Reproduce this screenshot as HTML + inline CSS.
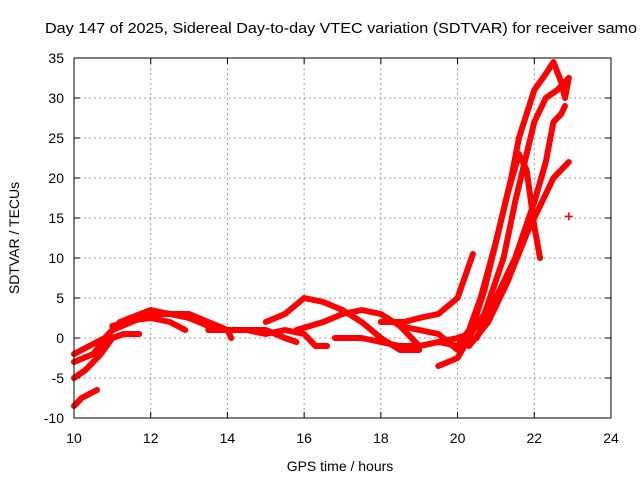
<!DOCTYPE html>
<html><head><meta charset="utf-8"><style>
body{margin:0;background:#fff}
svg{display:block;font-family:"Liberation Sans",sans-serif}
</style></head><body>
<svg id="c" width="640" height="480">
<text x="45" y="33" font-size="15" textLength="592" lengthAdjust="spacingAndGlyphs">Day 147 of 2025, Sidereal Day-to-day VTEC variation (SDTVAR) for receiver samo</text>
<g id="grid"></g><g id="ticks"></g><g id="series"></g>
<rect x="74" y="58" width="537" height="360" fill="none" stroke="#000" stroke-width="1"/>
<text x="340" y="471" font-size="14" text-anchor="middle">GPS time / hours</text>
<text transform="translate(19,238) rotate(-90)" font-size="14" text-anchor="middle">SDTVAR / TECUs</text>
</svg>
<script>
const xTicks=[10,12,14,16,18,20,22,24];
const yTicks=[-10,-5,0,5,10,15,20,25,30,35];
const trackA=[[10,-8.5],[10.2,-7.5],[10.4,-7],[10.6,-6.5]];
const trackB=[[10,-5],[10.3,-4],[10.7,-2],[11,0],[11.3,0.5],[11.7,0.5]];
const trackC=[[10,-3],[10.5,-2],[11,1],[11.5,2],[12,3],[12.5,3],[13,2.5],[13.5,1.5],[14,1],[14.5,1],[15,0.5],[15.5,1],[16,0.5],[16.3,-1],[16.6,-1]];
const trackD=[[10,-2],[10.8,0],[11.2,2],[12,3.5],[12.5,3],[13,3],[13.5,2],[14,1],[14.1,0]];
const trackE=[[11,1.5],[11.5,2.2],[12,2.5],[12.5,2],[12.9,1]];
const trackF=[[13.5,1],[14,1],[14.5,1],[15,1],[15.5,0],[15.8,-0.5]];
const trackG=[[15,2],[15.5,3],[16,5],[16.5,4.5],[17,3.5],[17.5,2],[18,0],[18.5,-1.5],[19,-1.5]];
const trackH=[[16.8,0],[17.5,0],[18,-0.5],[18.5,-1],[19,-1],[19.5,-0.5],[20,0],[20.3,0.5]];
const trackI=[[15.8,1],[16.5,2],[17,3],[17.5,3.5],[18,3],[18.5,1.5],[19,1],[19.5,0.5],[20,-1.5]];
const trackJ=[[18,2],[18.6,2],[19,2.5],[19.5,3],[20,5],[20.4,10.5]];
const trackK=[[18.5,1.5],[19,-1],[19.5,-0.5],[20,-1],[20.3,1],[20.6,5],[21,12],[21.3,18],[21.6,23],[21.8,21],[22,14],[22.15,10]];
const trackL=[[19.5,-3.5],[20,-2.5],[20.3,0],[20.7,6],[21,12],[21.4,20],[21.6,25],[22,31],[22.3,33],[22.5,34.5],[22.7,32],[22.8,30],[22.9,32.5]];
const trackM=[[20,-1],[20.5,0],[21,5],[21.5,10],[22,17],[22.3,22],[22.5,27],[22.7,28],[22.8,29]];
const trackN=[[20.3,-1],[20.8,2],[21.3,7],[21.8,13],[22.2,17],[22.5,20],[22.9,22]];
const trackO=[[20.2,-0.5],[20.7,3],[21.2,10],[21.5,17],[21.8,23],[22,27],[22.3,30],[22.6,31],[22.9,32.5]];
const trackP=[[22.9,15.2]];
const tracks=[trackA,trackB,trackC,trackD,trackE,trackF,trackG,trackH,trackI,trackJ,trackK,trackL,trackM,trackN,trackO,trackP];
const NS="http://www.w3.org/2000/svg";
const X=t=>74+(t-10)*537/14, Y=v=>58+(35-v)*8;
function mk(tag,at,parent){const e=document.createElementNS(NS,tag);for(const k in at)e.setAttribute(k,at[k]);parent.appendChild(e);return e;}
const grid=document.getElementById('grid'),ticks=document.getElementById('ticks'),ser=document.getElementById('series');
xTicks.forEach(t=>{
 if(t>10&&t<24){const g=mk('line',{x1:X(t),x2:X(t),y1:58,y2:418,stroke:'#999','stroke-dasharray':'2,3'},grid);
 
 }
 mk('line',{x1:X(t),x2:X(t),y1:418,y2:412,stroke:'#000'},ticks);
 mk('line',{x1:X(t),x2:X(t),y1:58,y2:64,stroke:'#000'},ticks);
 const l=mk('text',{x:X(t),y:443,'font-size':14,'text-anchor':'middle'},ticks);l.textContent=t;
 
 
});
yTicks.forEach(v=>{
 if(v>-10&&v<35){const g=mk('line',{x1:74,x2:611,y1:Y(v),y2:Y(v),stroke:'#999','stroke-dasharray':'2,3'},grid);
 
 }
 mk('line',{x1:74,x2:80,y1:Y(v),y2:Y(v),stroke:'#000'},ticks);
 mk('line',{x1:605,x2:611,y1:Y(v),y2:Y(v),stroke:'#000'},ticks);
 const l=mk('text',{x:64,y:Y(v)+5,'font-size':14,'text-anchor':'end'},ticks);l.textContent=v;
 
 
});
tracks.forEach(tr=>{
 if(tr.length===1){const p=mk('path',{d:`M${X(tr[0][0])-4},${Y(tr[0][1])}h8M${X(tr[0][0])},${Y(tr[0][1])-4}v8`,stroke:'#f00','stroke-width':1.5},ser);
 
 return;}
 const p=mk('polyline',{points:tr.map(q=>X(q[0])+','+Y(q[1])).join(' '),fill:'none',stroke:'#f00','stroke-width':6,'stroke-linejoin':'round','stroke-linecap':'round'},ser);
 
 
});
</script>
</body></html>
